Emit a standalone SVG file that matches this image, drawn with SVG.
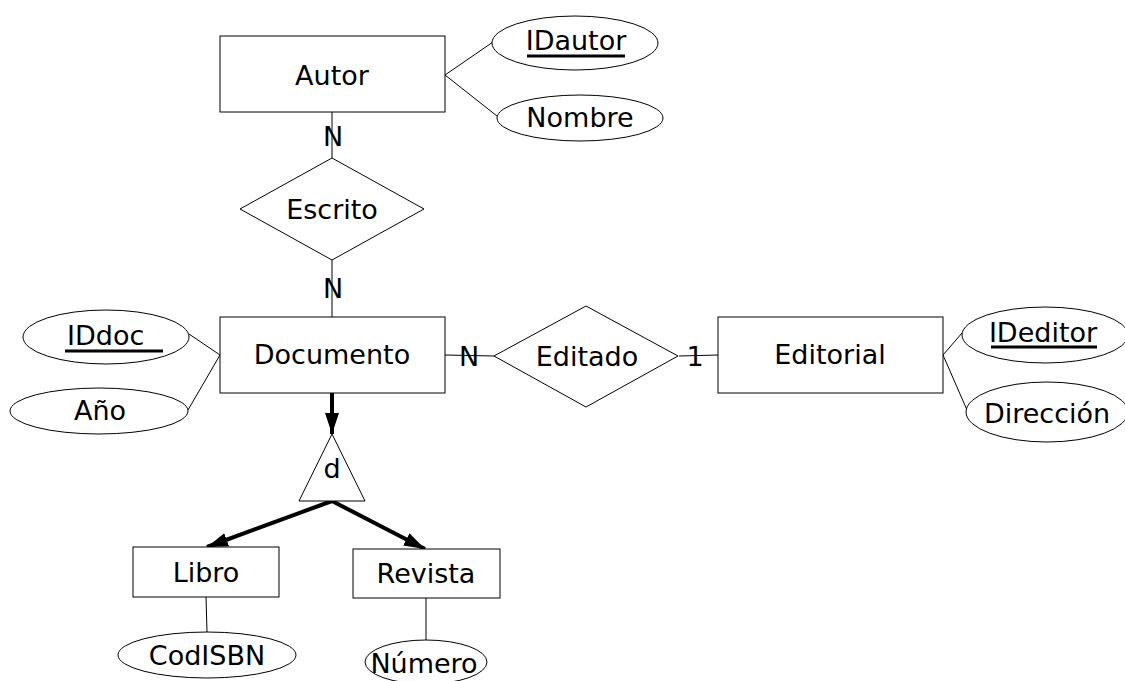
<svg xmlns="http://www.w3.org/2000/svg" width="1125" height="681" viewBox="0 0 1125 681">
<style>
.s{fill:#fff;stroke:#000;stroke-width:1}
.t{font-family:"DejaVu Sans","Bitstream Vera Sans",sans-serif;font-size:27px;fill:#000;text-anchor:middle}
.c{stroke:#000;stroke-width:1;fill:none}
.k{stroke:#000;stroke-width:4;fill:none}
.u{stroke:#000;stroke-width:3}
</style>
<defs>
<marker id="ah" markerUnits="userSpaceOnUse" markerWidth="22" markerHeight="14" refX="21" refY="7" orient="auto">
<path d="M0,0 L21,7 L0,14 z" fill="#000"/>
</marker>
</defs>
<rect width="1125" height="681" fill="#fff"/>
<g id="connectors">
<line class="c" x1="445" y1="75" x2="493" y2="42"/>
<line class="c" x1="445" y1="75" x2="497" y2="116"/>
<line class="c" x1="332" y1="112" x2="332" y2="158"/>
<line class="c" x1="332" y1="260" x2="332" y2="317"/>
<line class="c" x1="220" y1="355" x2="189" y2="334"/>
<line class="c" x1="220" y1="355" x2="188" y2="410"/>
<line class="c" x1="445" y1="355" x2="494" y2="356"/>
<line class="c" x1="679" y1="356" x2="718" y2="355"/>
<line class="c" x1="943" y1="355" x2="962" y2="333"/>
<line class="c" x1="943" y1="355" x2="967" y2="410"/>
<line class="c" x1="206" y1="597" x2="207" y2="632"/>
<line class="c" x1="426" y1="598" x2="426" y2="640"/>
<line class="k" x1="332" y1="393" x2="332" y2="434" marker-end="url(#ah)"/>
<line class="k" x1="332" y1="501" x2="207" y2="547" marker-end="url(#ah)"/>
<line class="k" x1="332" y1="501" x2="425" y2="549" marker-end="url(#ah)"/>
<text class="t" x="333" y="146">N</text>
<text class="t" x="333" y="298">N</text>
<text class="t" x="469" y="366">N</text>
<text class="t" x="695" y="366">1</text>
</g>
<g id="autor">
<rect class="s" x="220" y="36" width="225" height="76"/>
<text class="t" x="332" y="85">Autor</text>
</g>
<g id="idautor">
<ellipse class="s" cx="575" cy="43" rx="83" ry="27"/>
<text class="t" x="576" y="50">IDautor</text>
<line class="u" x1="527" y1="56" x2="625" y2="56"/>
</g>
<g id="nombre">
<ellipse class="s" cx="580" cy="118" rx="83" ry="23"/>
<text class="t" x="580" y="127">Nombre</text>
</g>
<g id="escrito">
<polygon class="s" points="332,158 424,209 332,260 240,209"/>
<text class="t" x="332" y="219">Escrito</text>
</g>
<g id="documento">
<rect class="s" x="220" y="317" width="225" height="76"/>
<text class="t" x="332" y="364">Documento</text>
</g>
<g id="iddoc">
<ellipse class="s" cx="106" cy="337" rx="83" ry="27"/>
<text class="t" x="67" y="345" style="text-anchor:start">IDdoc</text>
<line class="u" x1="65" y1="351" x2="163" y2="351"/>
</g>
<g id="anio">
<ellipse class="s" cx="99" cy="411" rx="89" ry="23"/>
<text class="t" x="100" y="420">Año</text>
</g>
<g id="editado">
<polygon class="s" points="586,306 678,356 586,407 494,356"/>
<text class="t" x="587" y="366">Editado</text>
</g>
<g id="editorial">
<rect class="s" x="718" y="317" width="225" height="76"/>
<text class="t" x="830" y="364">Editorial</text>
</g>
<g id="ideditor">
<ellipse class="s" cx="1045" cy="335" rx="83" ry="28"/>
<text class="t" x="1043" y="342">IDeditor</text>
<line class="u" x1="991" y1="347" x2="1097" y2="347"/>
</g>
<g id="direccion">
<ellipse class="s" cx="1047" cy="412" rx="81" ry="30"/>
<text class="t" x="1047" y="423">Dirección</text>
</g>
<g id="d">
<polygon class="s" points="332,434 365,501 299,501"/>
<text class="t" x="332" y="478">d</text>
</g>
<g id="libro">
<rect class="s" x="133" y="547" width="146" height="50"/>
<text class="t" x="206" y="582">Libro</text>
</g>
<g id="revista">
<rect class="s" x="353" y="549" width="147" height="49"/>
<text class="t" x="426" y="583">Revista</text>
</g>
<g id="codisbn">
<ellipse class="s" cx="207" cy="655" rx="89" ry="23"/>
<text class="t" x="207" y="665">CodISBN</text>
</g>
<g id="numero">
<ellipse class="s" cx="426" cy="662" rx="61" ry="22"/>
<text class="t" x="424" y="673">Número</text>
</g>
</svg>
